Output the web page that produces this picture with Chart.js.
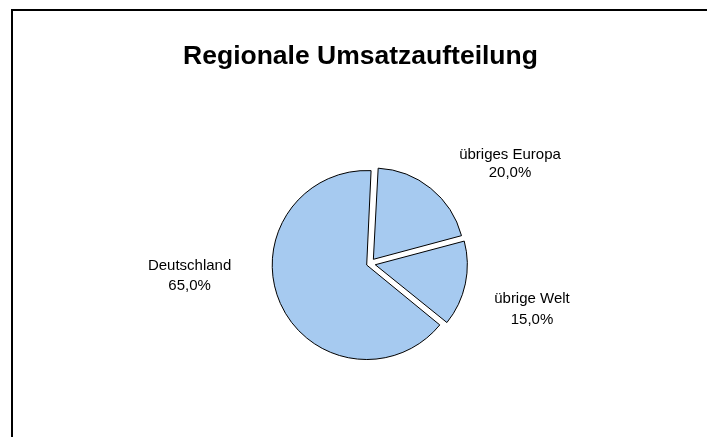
<!DOCTYPE html>
<html>
<head>
<meta charset="utf-8">
<script src="https://cdn.jsdelivr.net/npm/chart.js@4"></script>
<style>
  body { margin: 0; background: #fff; }
  #wrap { position: relative; width: 707px; height: 437px; overflow: hidden; }
  #frame { position: absolute; left: 11px; top: 9px; right: -5px; bottom: -5px;
           border-top: 2px solid #000; border-left: 2px solid #000; pointer-events: none; }
</style>
</head>
<body>
<div id="wrap">
  <canvas id="umsatz-chart" width="707" height="437"></canvas>
  <div id="frame"></div>
</div>
<script>
let chartTitle = "Regionale Umsatzaufteilung";
let regions = ["Deutschland", "übriges Europa", "übrige Welt"];
let shares = [65, 20, 15];
let explode = [14, 22, 22];

function pctText(i) {
    let total = shares.reduce((a, b) => a + b, 0);
    return (shares[i] / total * 100).toFixed(1).replace(".", ",") + "%";
}

// draws the title and the two-line labels next to each slice
let pieText = {
    id: "pieText",
    afterDatasetsDraw(chart, args, opts) {
        let ctx = chart.ctx;
        ctx.save();
        ctx.fillStyle = "#000";
        ctx.textAlign = "center";
        ctx.textBaseline = "alphabetic";

        ctx.font = "bold 26.5px 'Liberation Sans', Arial, sans-serif";
        ctx.fillText(chartTitle, opts.titleX, opts.titleY);

        ctx.font = "15px 'Liberation Sans', Arial, sans-serif";
        let meta = chart.getDatasetMeta(0);
        meta.data.forEach(function(arc, i) {
            let p = arc.getProps(["x", "y", "startAngle", "endAngle", "outerRadius"]);
            let mid = (p.startAngle + p.endAngle) / 2;
            let r = p.outerRadius + explode[i] / 4;
            let ax = p.x + Math.cos(mid) * r + opts.nudge[i][0];
            let ay = p.y + Math.sin(mid) * r + opts.nudge[i][1];
            ctx.fillText(regions[i], ax, ay);
            ctx.fillText(pctText(i), ax, ay + opts.lineHeight[i]);
        });
        ctx.restore();
    }
};

let pieChart = new Chart(document.getElementById("umsatz-chart").getContext("2d"), {
    type: "pie",
    data: {
        labels: regions,
        datasets: [{
            data: shares,
            backgroundColor: "#A6CAF0",
            borderColor: "#000",
            borderWidth: 1,
            offset: explode,
            hoverOffset: 0
        }]
    },
    options: {
        responsive: false,
        animation: false,
        events: [],
        rotation: 129,
        radius: 91,
        layout: { padding: { left: 40, right: 7.2, top: 97, bottom: 6.8 } },
        plugins: {
            legend: { display: false },
            tooltip: { enabled: false },
            pieText: {
                titleX: 360.5,
                titleY: 63.5,
                lineHeight: [19.5, 18.5, 21],
                nudge: [[-94, -32], [79.4, -30], [67.7, 19.5]]
            }
        }
    },
    plugins: [pieText]
});
</script>
</body>
</html>
